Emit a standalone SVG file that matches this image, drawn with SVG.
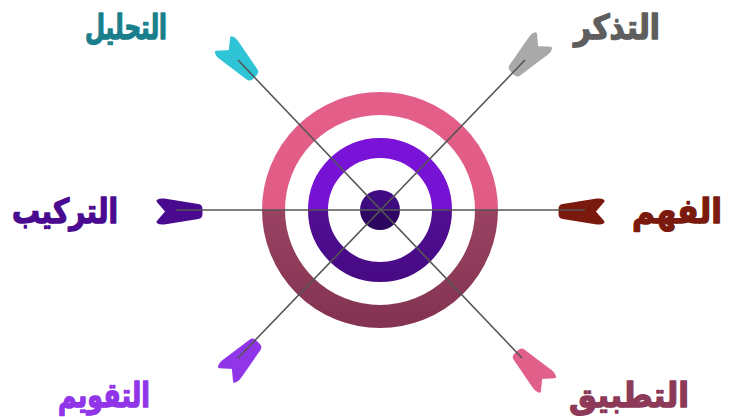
<svg xmlns="http://www.w3.org/2000/svg" width="731" height="417" viewBox="0 0 731 417">
<defs>
<style>
.lbl{font-family:"DejaVu Sans","Noto Sans",sans-serif;font-weight:bold;font-size:34px;text-anchor:middle;stroke-width:1.4;stroke-linejoin:round}
.line{stroke:#555;stroke-width:1.6;fill:none}
.fl{stroke-width:3;stroke-linejoin:round}
</style>
<linearGradient id="gOuter" x1="0" y1="0" x2="0" y2="1">
<stop offset="0" stop-color="#E35E88"/><stop offset="0.5" stop-color="#E05C85"/>
<stop offset="0.5" stop-color="#9A4262"/><stop offset="1" stop-color="#843452"/>
</linearGradient>
<linearGradient id="gMid" x1="0" y1="0" x2="0" y2="1">
<stop offset="0" stop-color="#7A12D8"/><stop offset="0.5" stop-color="#7412D2"/>
<stop offset="0.5" stop-color="#520E94"/><stop offset="1" stop-color="#470A84"/>
</linearGradient>
<linearGradient id="gDot" x1="0" y1="0" x2="0" y2="1">
<stop offset="0" stop-color="#410A84"/><stop offset="0.5" stop-color="#3E0A7E"/>
<stop offset="0.5" stop-color="#300666"/><stop offset="1" stop-color="#2A055C"/>
</linearGradient>
<path id="fletch" d="M0,-10.5 Q2,-12 6,-11.5 L40,-6 Q43,-5.5 43,-2.5 L43,2.5 Q43,5.5 40,6 L6,11.5 Q2,12 0,10.5 L9,0 Z"/>
</defs>
<g id="target">
<circle cx="380" cy="210" r="106.5" fill="none" stroke="url(#gOuter)" stroke-width="23"/>
<circle cx="380" cy="210" r="62" fill="none" stroke="url(#gMid)" stroke-width="20"/>
<circle cx="380" cy="210" r="20" fill="url(#gDot)"/>
</g>
<g id="node-tahlil">
<use href="#fletch" class="fl" fill="#2EC4D6" stroke="#2EC4D6" transform="translate(224,45) rotate(46.4)"/>
<text class="lbl" x="126" y="39" fill="#1A7F8C" stroke="#1A7F8C" textLength="82" lengthAdjust="spacingAndGlyphs">التحليل</text>
</g>
<g id="node-tadhakkur">
<use href="#fletch" class="fl" fill="#A9A9A9" stroke="#A9A9A9" transform="translate(543,41) rotate(133.9)"/>
<text class="lbl" x="617" y="39" fill="#5E5E5E" stroke="#5E5E5E" textLength="86" lengthAdjust="spacingAndGlyphs">التذكر</text>
</g>
<g id="node-tarkib">
<use href="#fletch" class="fl" fill="#4A0A90" stroke="#4A0A90" transform="translate(158,211.5)"/>
<text class="lbl" x="65" y="223" fill="#4A0A90" stroke="#4A0A90" textLength="106" lengthAdjust="spacingAndGlyphs">التركيب</text>
</g>
<g id="node-fahm">
<use href="#fletch" class="fl" fill="#7A1A0E" stroke="#7A1A0E" transform="translate(603,211.5) rotate(180)"/>
<text class="lbl" x="677" y="223" fill="#7A1A0E" stroke="#7A1A0E" textLength="90" lengthAdjust="spacingAndGlyphs">الفهم</text>
</g>
<g id="node-taqwim">
<use href="#fletch" class="fl" fill="#9035E8" stroke="#9035E8" transform="translate(227,374) rotate(-46.1)"/>
<text class="lbl" x="104" y="407" fill="#9035E8" stroke="#9035E8" textLength="92" lengthAdjust="spacingAndGlyphs">التقويم</text>
</g>
<g id="node-tatbiq">
<use href="#fletch" class="fl" fill="#E0608A" stroke="#E0608A" transform="translate(547,384) rotate(226.4)"/>
<text class="lbl" x="629" y="407" fill="#8C3A58" stroke="#8C3A58" textLength="120" lengthAdjust="spacingAndGlyphs">التطبيق</text>
</g>
<g id="connectors">
<line class="line" x1="176" y1="210" x2="585" y2="210"/>
<line class="line" x1="238" y1="60" x2="522" y2="358"/>
<line class="line" x1="238" y1="358" x2="525" y2="60"/>
</g>
</svg>
